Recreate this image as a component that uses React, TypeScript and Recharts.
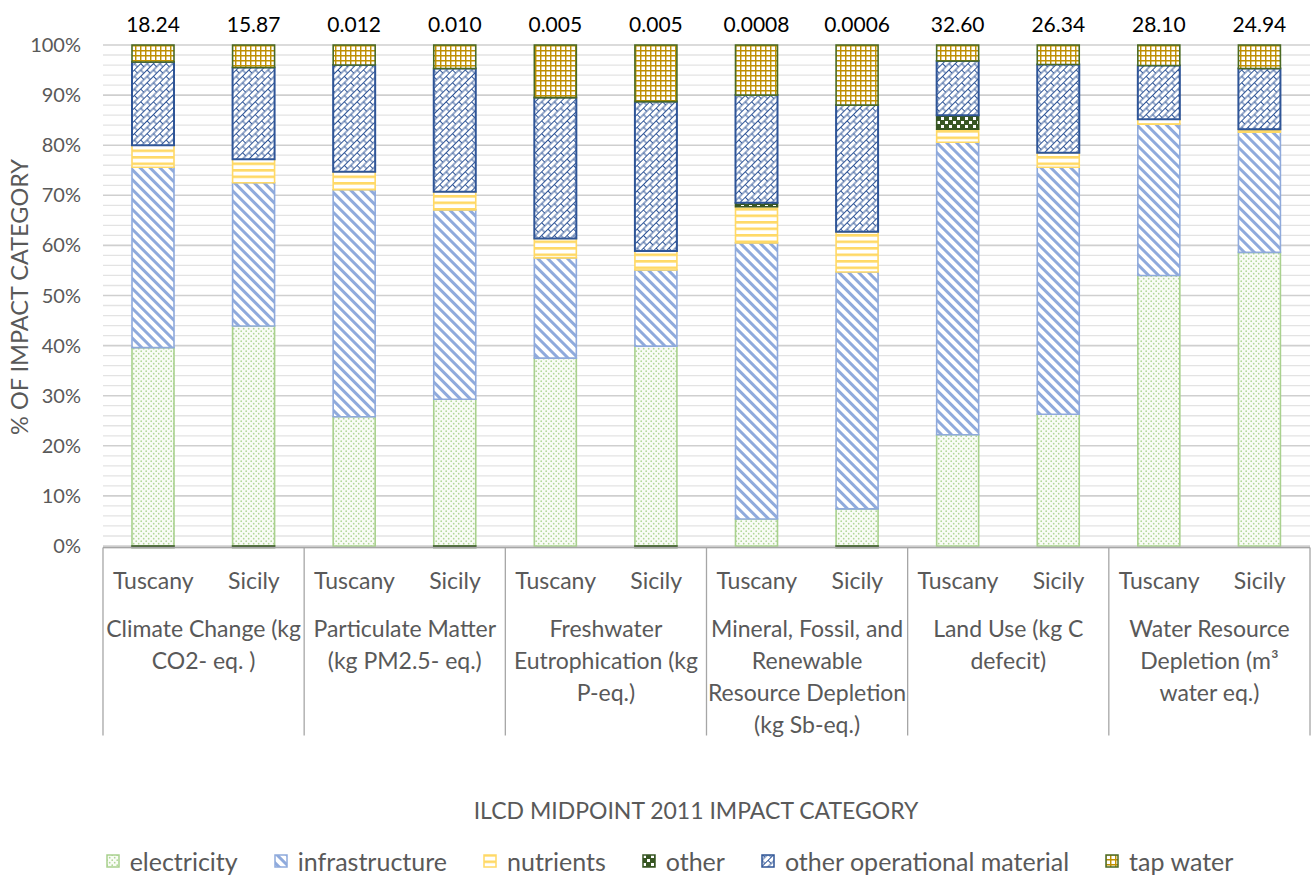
import React from 'react';
import {
  BarChart,
  Bar,
  XAxis,
  YAxis,
  CartesianGrid,
  Legend,
  LabelList,
} from 'recharts';

const regions = [
  'Tuscany', 'Sicily', 'Tuscany', 'Sicily', 'Tuscany', 'Sicily',
  'Tuscany', 'Sicily', 'Tuscany', 'Sicily', 'Tuscany', 'Sicily',
];

const categoryLines = [
  ['Climate Change (kg', 'CO2- eq. )'],
  ['Particulate Matter', '(kg PM2.5- eq.)'],
  ['Freshwater', 'Eutrophication (kg', 'P-eq.)'],
  ['Mineral, Fossil, and', 'Renewable', 'Resource Depletion', '(kg Sb-eq.)'],
  ['Land Use (kg C', 'defecit)'],
  ['Water Resource', 'Depletion (m\u00b3', 'water eq.)'],
];

// absolute totals printed above each bar
const totals = ['18.24', '15.87', '0.012', '0.010', '0.005', '0.005', '0.0008', '0.0006', '32.60', '26.34', '28.10', '24.94'];

// shares in % of each impact category
const electricity = [39.6, 43.9, 25.8, 29.3, 37.5, 39.9, 5.4, 7.4, 22.2, 26.3, 54.0, 58.6];
const infrastructure = [36.0, 28.6, 45.3, 37.8, 20.0, 15.2, 55.1, 47.3, 58.4, 49.3, 30.2, 24.0];
const nutrients = [4.4, 4.7, 3.6, 3.6, 3.9, 3.8, 7.2, 8.0, 2.6, 2.9, 1.0, 0.6];
const other = [-0.3, -0.3, 0, -0.3, 0, -0.3, 0.8, -0.3, 2.8, 0, 0, 0];
const operational = [16.6, 18.3, 21.3, 24.6, 28.1, 29.8, 21.5, 25.3, 10.8, 17.6, 10.7, 12.1];
const tapWater = [3.4, 4.5, 4.0, 4.7, 10.5, 11.3, 10.0, 12.0, 3.2, 3.9, 4.1, 4.7];

const Y_DOMAIN = [-0.3, 100];
const majorTicks = [0, 10, 20, 30, 40, 50, 60, 70, 80, 90, 100];
const minorTicks = [2, 4, 6, 8, 12, 14, 16, 18, 22, 24, 26, 28, 32, 34, 36, 38, 42, 44, 46, 48, 52, 54, 56, 58, 62, 64, 66, 68, 72, 74, 76, 78, 82, 84, 86, 88, 92, 94, 96, 98];

const data = regions.map((region, i) => ({
  region,
  electricity: electricity[i],
  infrastructure: infrastructure[i],
  nutrients: nutrients[i],
  other: other[i],
  operational: operational[i],
  tapWater: tapWater[i],
  total: totals[i],
}));

const FONT = 'Lato, "DejaVu Sans", sans-serif';
const GRAY = '#595959';
const AXIS_GRAY = '#a6a6a6';
const HALF_BAND = 50.3;

const SERIES = [
  { key: 'electricity', name: 'electricity', fill: 'url(#pElec)', stroke: '#a9d18e' },
  { key: 'infrastructure', name: 'infrastructure', fill: 'url(#pInfra)', stroke: '#8faadc' },
  { key: 'nutrients', name: 'nutrients', fill: 'url(#pNutr)', stroke: '#ffd966' },
  { key: 'other', name: 'other', fill: 'url(#pOther)', stroke: '#375623' },
  { key: 'operational', name: 'other operational material', fill: 'url(#pOper)', stroke: '#2f5597' },
  { key: 'tapWater', name: 'tap water', fill: 'url(#pTap)', stroke: '#4b6a23' },
];

// minor gridlines every 2%, placed with the y scale when available
function minorGridLines(props: any) {
  const { yAxis, offset } = props || {};
  const scale = yAxis && yAxis.scale;
  if (typeof scale === 'function') return minorTicks.map((t) => scale(t));
  if (scale && typeof scale.map === 'function') return minorTicks.map((t) => scale.map(t));
  const top = offset.top;
  const h = offset.height;
  return minorTicks.map((t) => top + (h * (Y_DOMAIN[1] - t)) / (Y_DOMAIN[1] - Y_DOMAIN[0]));
}

function CategoryTick(props: any) {
  const { x, y, payload } = props;
  const i = payload.index ?? props.index;
  return (
    <g>
      <text x={x} y={y + 41} textAnchor="middle" fill={GRAY} fontSize={23} fontFamily={FONT}>
        {payload.value}
      </text>
      {i % 2 === 0 && (
        <g>
          <line x1={x - HALF_BAND} x2={x - HALF_BAND} y1={y} y2={y + 188} stroke={AXIS_GRAY} strokeWidth={1.3} />
          {categoryLines[i / 2].map((line, k) => (
            <text
              key={k}
              x={x + HALF_BAND}
              y={y + 89 + k * 32}
              textAnchor="middle"
              fill={GRAY}
              fontSize={23}
              fontFamily={FONT}
            >
              {line}
            </text>
          ))}
        </g>
      )}
      {i === regions.length - 1 && (
        <line x1={x + HALF_BAND} x2={x + HALF_BAND} y1={y} y2={y + 188} stroke={AXIS_GRAY} strokeWidth={1.3} />
      )}
    </g>
  );
}

function LegendContent() {
  return (
    <div
      style={{
        display: 'flex',
        justifyContent: 'center',
        alignItems: 'center',
        gap: 36,
        paddingLeft: 28,
        fontFamily: FONT,
        fontSize: 25,
        color: GRAY,
      }}
    >
      {SERIES.map((s) => (
        <span key={s.key} style={{ display: 'flex', alignItems: 'center' }}>
          <svg width={14} height={14} style={{ marginRight: 10 }}>
            <rect x={1} y={1} width={12} height={12} fill={s.fill} stroke={s.stroke} strokeWidth={1.5} />
          </svg>
          {s.name}
        </span>
      ))}
    </div>
  );
}

export default function App() {
  return (
    <div style={{ position: 'absolute', left: 0, top: 0, background: '#fff' }}>
      <BarChart
        width={1311}
        height={879}
        data={data}
        stackOffset="sign"
        margin={{ top: 45, right: 1, left: 0, bottom: 131.5 }}
      >
        <defs>
          <pattern id="pElec" width="5" height="5" patternUnits="userSpaceOnUse">
            <rect width="5" height="5" fill="#f9fcf6" />
            <circle cx="1.2" cy="1.2" r="0.85" fill="#b0d696" />
            <circle cx="3.7" cy="3.7" r="0.85" fill="#b0d696" />
          </pattern>
          <pattern id="pInfra" width="7" height="7" patternUnits="userSpaceOnUse" patternTransform="rotate(-45)">
            <rect width="7" height="7" fill="#fff" />
            <rect x="0" y="0" width="3" height="7" fill="#8faadc" />
          </pattern>
          <pattern id="pNutr" width="6" height="6.5" patternUnits="userSpaceOnUse">
            <rect width="6" height="6.5" fill="#fff" />
            <rect x="0" y="0" width="6" height="2.6" fill="#ffd966" />
          </pattern>
          <pattern id="pOther" width="8" height="8" patternUnits="userSpaceOnUse">
            <rect width="8" height="8" fill="#375623" />
            <rect x="1" y="1" width="3" height="3" fill="#fff" />
            <rect x="5" y="5" width="3" height="3" fill="#fff" />
          </pattern>
          <pattern id="pOper" width="9" height="9" patternUnits="userSpaceOnUse" patternTransform="rotate(-45)">
            <rect width="9" height="9" fill="#fff" />
            <path d="M0 0.5 H9 M0 5 H9 M0.5 0.5 V5 M5 5 V9" stroke="#2f5597" strokeWidth="1" fill="none" />
          </pattern>
          <pattern id="pTap" width="5" height="5" patternUnits="userSpaceOnUse">
            <rect width="5" height="5" fill="#fff" />
            <path d="M0 0.7 H5 M0.7 0 V5" stroke="#bf9000" strokeWidth="1.5" fill="none" />
          </pattern>
        </defs>
        <CartesianGrid
          vertical={false}
          stroke="#e3e3e3"
          strokeWidth={1.3}
          horizontalCoordinatesGenerator={minorGridLines}
        />
        <CartesianGrid vertical={false} stroke="#cfcfcf" strokeWidth={1.6} />
        <XAxis
          dataKey="region"
          height={200}
          interval={0}
          tickLine={false}
          tickSize={0}
          tickMargin={0}
          stroke={AXIS_GRAY}
          strokeWidth={1.5}
          tick={<CategoryTick />}
        />
        <YAxis
          width={103}
          domain={Y_DOMAIN}
          ticks={majorTicks}
          tickFormatter={(v) => `${v}%`}
          axisLine={false}
          tickLine={false}
          tickSize={0}
          tickMargin={22}
          tick={{ fill: GRAY, fontSize: 20, fontFamily: FONT }}
        />
        <Legend
          layout="horizontal"
          verticalAlign="middle"
          align="center"
          content={<LegendContent />}
          wrapperStyle={{ left: 0, top: 846, width: 1311 }}
        />
        {SERIES.map((s) => (
          <Bar
            key={s.key}
            dataKey={s.key}
            name={s.name}
            stackId="a"
            barSize={42}
            fill={s.fill}
            stroke={s.stroke}
            strokeWidth={s.key === 'operational' ? 2 : 1.6}
            isAnimationActive={false}
          >
            {s.key === 'tapWater' && (
              <LabelList dataKey="total" position="top" offset={13} fill="#000" fontSize={21} fontFamily={FONT} />
            )}
          </Bar>
        ))}
        <text
          x={19}
          y={297}
          transform="rotate(-90 19 297)"
          textAnchor="middle"
          dominantBaseline="central"
          fill={GRAY}
          fontSize={23.5}
          fontFamily={FONT}
        >
          % OF IMPACT CATEGORY
        </text>
        <text x={696} y={819} textAnchor="middle" fill={GRAY} fontSize={23} fontFamily={FONT}>
          ILCD MIDPOINT 2011 IMPACT CATEGORY
        </text>
      </BarChart>
    </div>
  );
}
